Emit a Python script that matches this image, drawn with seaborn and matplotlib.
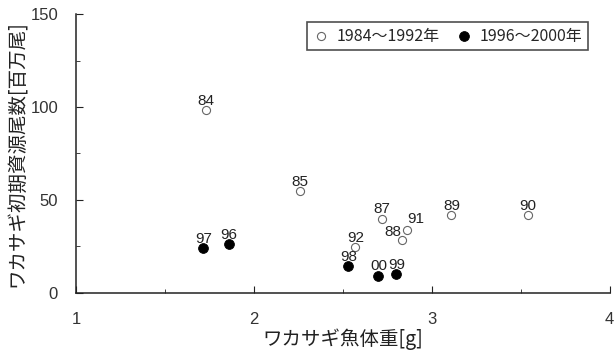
import pandas as pd
import matplotlib.pyplot as plt
import seaborn as sns
from matplotlib.ticker import MultipleLocator

# データ
years_a = ['84', '85', '87', '88', '89', '90', '91', '92']
weight_a = [1.73, 2.26, 2.72, 2.83, 3.11, 3.54, 2.86, 2.57]
stock_a = [98.5, 55, 40, 28.5, 42, 42, 34, 24.6]

years_b = ['96', '97', '98', '99', '00']
weight_b = [1.86, 1.715, 2.53, 2.80, 2.70]
stock_b = [26.3, 24, 14.5, 10.2, 9.3]

label_a = '1984～1992年'
label_b = '1996～2000年'

df_a = pd.DataFrame({'year': years_a, 'weight': weight_a, 'stock': stock_a})
df_b = pd.DataFrame({'year': years_b, 'weight': weight_b, 'stock': stock_b})

sns.set_style('ticks')
num_font = ['Liberation Sans Narrow', 'Liberation Sans', 'DejaVu Sans']
jp_font = ['Noto Sans CJK JP', 'DejaVu Sans']
plt.rcParams['font.family'] = jp_font

fig = plt.figure(figsize=(6.14, 3.52), dpi=100)
ax = fig.add_axes([0.124, 0.168, 0.869, 0.792])

sns.scatterplot(data=df_a, x='weight', y='stock', ax=ax, marker='o', s=34,
                facecolor='white', edgecolor='#666666', linewidth=0.8, label=label_a)
sns.scatterplot(data=df_b, x='weight', y='stock', ax=ax, marker='o', s=50,
                color='black', edgecolor='black', label=label_b)

# 年ラベル（88 と 91 は重ならないようにずらす）
offsets = {'88': (-6, 0.5), '91': (6, 2.5)}
for df in (df_a, df_b):
    for _, r in df.iterrows():
        off = offsets.get(r['year'], (0, 1.5))
        ax.annotate(r['year'], (r['weight'], r['stock']), xytext=off,
                    textcoords='offset points', ha='center', va='bottom',
                    fontsize=11, family=num_font, color='#222222')

ax.set_xlim(1, 4)
ax.set_ylim(0, 150)
ax.xaxis.set_major_locator(MultipleLocator(1))
ax.xaxis.set_minor_locator(MultipleLocator(0.5))
ax.yaxis.set_major_locator(MultipleLocator(50))
ax.yaxis.set_minor_locator(MultipleLocator(25))
ax.tick_params(which='both', direction='in', color='#222222')
ax.tick_params(which='major', length=5, labelsize=12, labelcolor='#333333')
ax.tick_params(axis='x', which='major', pad=14)
ax.tick_params(axis='y', which='major', pad=13)
ax.tick_params(which='minor', length=3)
for lab in ax.get_xticklabels() + ax.get_yticklabels():
    lab.set_family(num_font)
sns.despine(ax=ax)
for sp in ('left', 'bottom'):
    ax.spines[sp].set_color('#222222')
    ax.spines[sp].set_linewidth(1.1)

ax.set_xlabel('ワカサギ魚体重[g]', fontsize=14, color='#222222', labelpad=1)
ax.set_ylabel('ワカサギ初期資源尾数[百万尾]', fontsize=14, color='#222222', labelpad=2)

leg = ax.legend(loc='upper right', bbox_to_anchor=(0.975, 1.0), ncol=2, fontsize=11.5,
                frameon=True, fancybox=False, handletextpad=0.5, columnspacing=1.0,
                borderpad=0.35, handlelength=1.0)
leg.get_frame().set_edgecolor('#222222')
leg.get_frame().set_linewidth(1.2)

fig.savefig('out.png', dpi=100)
